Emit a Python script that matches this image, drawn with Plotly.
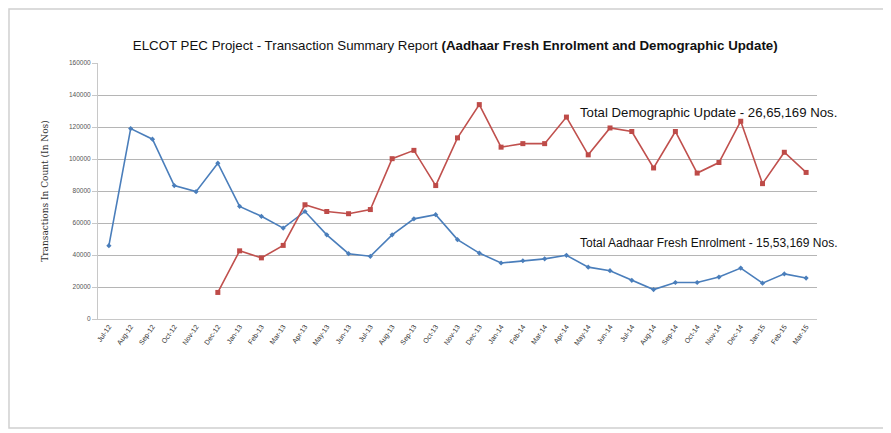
import plotly.graph_objects as go

months = ["Jul-12", "Aug-12", "Sep-12", "Oct-12", "Nov-12", "Dec-12",
          "Jan-13", "Feb-13", "Mar-13", "Apr-13", "May-13", "Jun-13",
          "Jul-13", "Aug-13", "Sep-13", "Oct-13", "Nov-13", "Dec-13",
          "Jan-14", "Feb-14", "Mar-14", "Apr-14", "May-14", "Jun-14",
          "Jul-14", "Aug-14", "Sep-14", "Oct-14", "Nov-14", "Dec-14",
          "Jan-15", "Feb-15", "Mar-15"]

fresh_enrolment = [45800, 119000, 112400, 83400, 79600, 97400, 70400, 64200,
                   56800, 67200, 52600, 40800, 39200, 52600, 62600, 65200,
                   49600, 41200, 35000, 36400, 37600, 39800, 32400, 30200,
                   24200, 18400, 22800, 22800, 26200, 31800, 22400, 28200, 25600]

demographic_update = [None, None, None, None, None, 16600, 42600, 38200,
                      46000, 71400, 67200, 65800, 68400, 100200, 105400,
                      83400, 113200, 134000, 107400, 109600, 109600, 126200,
                      102600, 119400, 117200, 94400, 117200, 91200, 97800,
                      123600, 84600, 104200, 91600]

y_ticks = [0, 20000, 40000, 60000, 80000, 100000, 120000, 140000, 160000]

title_text = ("ELCOT PEC Project - Transaction Summary Report "
              "<b>(Aadhaar Fresh Enrolment and Demographic Update)</b>")
demo_label = "Total Demographic Update - 26,65,169 Nos."
fresh_label = "Total Aadhaar Fresh Enrolment - 15,53,169 Nos."

fig = go.Figure()
fig.add_trace(go.Scatter(
    x=months, y=fresh_enrolment, mode="lines+markers",
    line=dict(color="#4a7ebb", width=1.6),
    marker=dict(symbol="diamond", size=4, color="#4a7ebb"),
    name="Fresh Enrolment", showlegend=False))
fig.add_trace(go.Scatter(
    x=months, y=demographic_update, mode="lines+markers",
    line=dict(color="#c0504d", width=1.6),
    marker=dict(symbol="square", size=5, color="#be4b48"),
    name="Demographic Update", showlegend=False))

font_main = "Liberation Sans, Arial, sans-serif"

fig.update_layout(
    width=883, height=425,
    margin=dict(l=90, r=74, t=55, b=114, autoexpand=False),
    paper_bgcolor="white", plot_bgcolor="white",
    font=dict(family=font_main, color="#222222"),
    title=dict(text=title_text, x=0.5065, xanchor="center", y=0.913, yanchor="middle",
               font=dict(size=13.3, family=font_main, color="#111111")),
    xaxis=dict(type="category", tickangle=-55, tickfont=dict(size=7, color="#333333"),
               showgrid=False, showline=True, linecolor="#c8c8c8", ticks="",
               automargin=False, range=[-0.5, len(months) - 0.5]),
    yaxis=dict(range=[0, 160000], tickvals=y_ticks, ticktext=[str(v) for v in y_ticks],
               tickfont=dict(size=6.5, color="#555555"), automargin=False,
               showgrid=True, gridcolor="#b5b5b5", gridwidth=1,
               showline=True, linecolor="#c8c8c8", ticks="outside", ticklen=5,
               tickcolor="#c8c8c8", zeroline=False,
               title=dict(text="Transactions In Count (In Nos)",
                          font=dict(size=9, family="DejaVu Serif, serif", color="#333333"),
                          standoff=18)),
    annotations=[
        dict(text=demo_label, xref="paper", yref="paper", x=0.667, y=0.805,
             xanchor="left", yanchor="middle", showarrow=False,
             font=dict(size=13.2, family=font_main, color="#111111")),
        dict(text=fresh_label, xref="paper", yref="paper", x=0.667, y=0.298,
             xanchor="left", yanchor="middle", showarrow=False,
             font=dict(size=12, family=font_main, color="#111111")),
    ],
    shapes=[dict(type="rect", xref="paper", yref="paper",
                 x0=-0.1238, x1=1.096, y0=-0.426, y1=1.211,
                 line=dict(color="#d0d0d0", width=1.5))],
)

fig.write_html("out.html")
